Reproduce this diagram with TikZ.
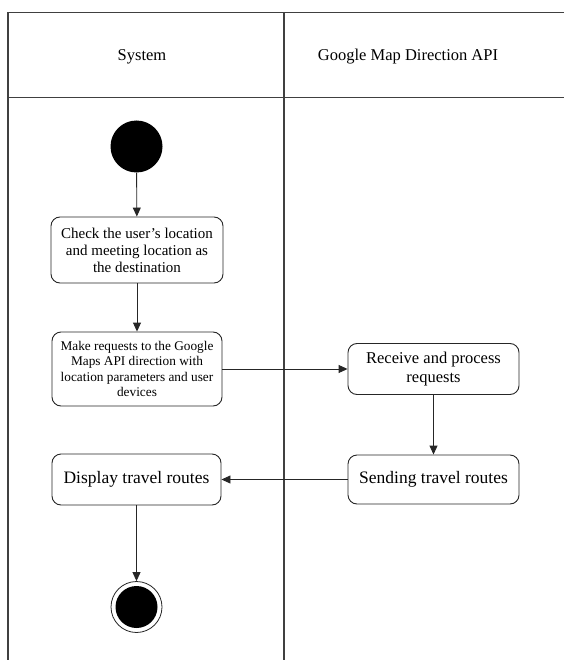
\documentclass[tikz,border=0pt]{standalone}
\usepackage{fontspec}
\setmainfont{Liberation Serif}
\usetikzlibrary{arrows.meta}
\tikzset{
  frame/.style={line width=1.3pt, draw=black!75},
  act/.style={draw=black!85, line width=0.9pt, rounded corners=9pt, fill=white, inner sep=0pt, align=center},
  flow/.style={draw=black!85, line width=0.9pt, -{Triangle[length=9pt,width=8pt]}},
  startnode/.style={circle, fill=black, minimum size=52pt, inner sep=0pt},
  endouter/.style={circle, draw=black!85, line width=0.8pt, fill=white, minimum size=51pt, inner sep=0pt},
  endinner/.style={circle, fill=black, minimum size=42pt, inner sep=0pt},
  lanetitle/.style={font=\fontsize{16.5}{19}\selectfont}
}
\begin{document}
\begin{tikzpicture}[x=1pt,y=-1pt]
\useasboundingbox (0,0) rectangle (564,660);
% swimlane frame
\coordinate (tl) at (8,12.5);
\coordinate (tr) at (564,12.5);
\coordinate (bl) at (8,660);
\coordinate (dt) at (284,12.5);
\coordinate (db) at (284,660);
\coordinate (hl) at (8,97.5);
\coordinate (hr) at (564,97.5);
\draw[frame] (tr) -- (tl) -- (bl);
\draw[frame] (dt) -- (db);
\draw[frame] (hl) -- (hr);
\node[lanetitle] (lane1) at (142,57) {System};
\node[lanetitle] (lane2) at (408,57) {Google Map Direction API};
% nodes
\node[startnode] (start) at (136.5,146.5) {};
\node[act, minimum width=172pt, minimum height=66pt, font=\fontsize{15}{17}\selectfont] (check) at (137,250)
  {Check the user\char"27 s location\\and meeting location as\\the destination};
\node[act, minimum width=170pt, minimum height=74pt, font=\fontsize{13.3}{15.3}\selectfont] (make) at (137,369)
  {Make requests to the Google\\Maps API direction with\\location parameters and user\\devices};
\node[act, minimum width=171pt, minimum height=51pt, font=\fontsize{16.5}{19}\selectfont] (recv) at (433.5,369)
  {Receive and process\\requests};
\node[act, minimum width=171pt, minimum height=49pt, font=\fontsize{17.5}{20}\selectfont] (send) at (433.5,479.5)
  {Sending travel routes};
\node[act, minimum width=169pt, minimum height=51pt, font=\fontsize{17.5}{20}\selectfont] (disp) at (136.5,479.5)
  {Display travel routes};
\node[endouter] (endo) at (136.5,607) {};
\node[endinner] (endi) at (136.5,607) {};
% flows
\draw[flow] (start) -- (check);
\draw[flow] (check) -- (make);
\draw[flow] (make.east) -- (recv.west);
\draw[flow] (recv) -- (send);
\draw[flow] (send.west) -- (disp.east);
\draw[flow] (disp) -- (endo);
\end{tikzpicture}
\end{document}
